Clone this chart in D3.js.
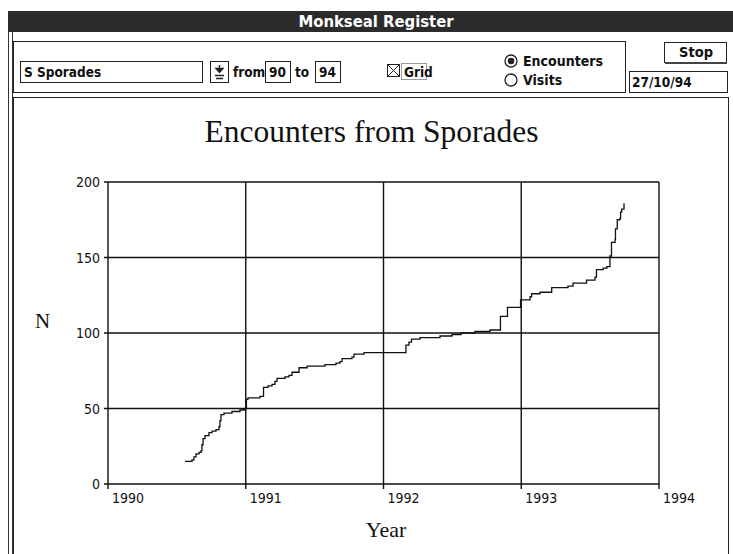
<!DOCTYPE html>
<html>
<head>
<meta charset="utf-8">
<script src="https://cdn.jsdelivr.net/npm/d3@7"></script>
<style>
  body { margin: 0; background: #fff; }
  .ui { font-family: "DejaVu Sans Condensed", "DejaVu Sans", sans-serif; font-weight: bold; font-size: 14px; fill: #111; }
  .tick-lbl { font-family: "Liberation Sans Narrow", "DejaVu Sans Condensed", sans-serif; font-size: 14px; fill: #111; }
  .serif { font-family: "Liberation Serif", "DejaVu Serif", serif; fill: #111; }
</style>
</head>
<body>
<div id="chart"></div>
<script>
// cumulative encounters (decimal year, N)
const years = [1990.559, 1990.610, 1990.624, 1990.639, 1990.661, 1990.675, 1990.682, 1990.690,
  1990.704, 1990.733, 1990.755, 1990.784, 1990.806, 1990.813, 1990.820, 1990.842, 1990.900,
  1990.958, 1990.995, 1991.005, 1991.016, 1991.103, 1991.129, 1991.162, 1991.191, 1991.212,
  1991.227, 1991.285, 1991.314, 1991.336, 1991.387, 1991.445, 1991.575, 1991.655, 1991.684,
  1991.699, 1991.771, 1991.786, 1991.859, 1992.163, 1992.185, 1992.203, 1992.265, 1992.410,
  1992.497, 1992.563, 1992.664, 1992.773, 1992.849, 1992.900, 1992.995, 1993.064, 1993.075,
  1993.136, 1993.221, 1993.339, 1993.376, 1993.474, 1993.535, 1993.546, 1993.595, 1993.622,
  1993.644, 1993.655, 1993.681, 1993.684, 1993.697, 1993.717, 1993.721, 1993.729, 1993.746];
const counts = [15, 16, 18, 20, 21, 22, 26, 30,
  32, 34, 35, 36, 38, 42, 46, 47, 48,
  49, 50, 56, 57, 58, 64, 65, 66, 68,
  70, 71, 72, 74, 77, 78, 79, 80, 81,
  83, 84, 86, 87, 92, 94, 96, 97, 98,
  99, 100, 101, 102, 111, 117, 122, 124, 126,
  127, 130, 131, 133, 135, 137, 142, 143, 144,
  151, 160, 162, 169, 175, 176, 180, 182, 186];
const xTicks = [1990, 1991, 1992, 1993, 1994];
const yTicks = [0, 50, 100, 150, 200];

const width = 733, height = 554;
const plot = {left: 108, right: 659, top: 182, bottom: 484};

let svg = d3.select('#chart')
    .append("svg")
    .attr("width", width)
    .attr("height", height);

svg.append("rect").attr("width", width).attr("height", height).attr("fill", "#fff");

// ---- window chrome ----
svg.append("rect").attr("x", 8).attr("y", 11).attr("width", 725).attr("height", 21).attr("fill", "#2b2b2b");
svg.append("text").attr("class", "ui")
    .attr("x", 376).attr("y", 27)
    .attr("text-anchor", "middle")
    .style("font-size", "16.5px")
    .style("fill", "#fff")
    .text("Monkseal Register");

// outer frame lines
svg.append("line").attr("x1", 8.5).attr("x2", 8.5).attr("y1", 32).attr("y2", height).attr("stroke", "#333");
svg.append("line").attr("x1", 12.5).attr("x2", 12.5).attr("y1", 32).attr("y2", height).attr("stroke", "#333");

// control panel
svg.append("rect").attr("x", 13.5).attr("y", 41.5).attr("width", 612).attr("height", 51)
    .attr("fill", "none").attr("stroke", "#222");
svg.append("rect").attr("x", 20.5).attr("y", 61.5).attr("width", 182).attr("height", 21)
    .attr("fill", "none").attr("stroke", "#222");
svg.append("text").attr("class", "ui").attr("x", 24).attr("y", 77).style("font-size", "13.5px").text("S Sporades");

svg.append("rect").attr("x", 210.5).attr("y", 61.5).attr("width", 18).attr("height", 21)
    .attr("fill", "none").attr("stroke", "#222");
svg.append("path").attr("d", "M219.5,65 V71 M216,68.5 L219.5,72.5 L223,68.5 Z M215,75.5 H224 M216,78.5 H223")
    .attr("fill", "#222").attr("stroke", "#222").attr("stroke-width", 1.4);

svg.append("text").attr("class", "ui").attr("x", 233).attr("y", 77).style("font-size", "13.5px").text("from");
svg.append("rect").attr("x", 265.5).attr("y", 61.5).attr("width", 25).attr("height", 21)
    .attr("fill", "none").attr("stroke", "#222");
svg.append("text").attr("class", "ui").attr("x", 269).attr("y", 77).style("font-size", "13.5px").text("90");
svg.append("text").attr("class", "ui").attr("x", 295).attr("y", 77).style("font-size", "13.5px").text("to");
svg.append("rect").attr("x", 315.5).attr("y", 61.5).attr("width", 25).attr("height", 21)
    .attr("fill", "none").attr("stroke", "#222");
svg.append("text").attr("class", "ui").attr("x", 319).attr("y", 77).style("font-size", "13.5px").text("94");

svg.append("rect").attr("x", 387.5).attr("y", 64.5).attr("width", 12).attr("height", 12)
    .attr("fill", "none").attr("stroke", "#222");
svg.append("path").attr("d", "M388,65 L399,76 M399,65 L388,76").attr("stroke", "#222");
svg.append("rect").attr("x", 401.5).attr("y", 63.5).attr("width", 25).attr("height", 16)
    .attr("fill", "none").attr("stroke", "#333").attr("stroke-dasharray", "1,1");
svg.append("text").attr("class", "ui").attr("x", 404).attr("y", 76.5).style("font-size", "13.5px").text("Grid");

svg.append("circle").attr("cx", 511).attr("cy", 61).attr("r", 6).attr("fill", "none").attr("stroke", "#222").attr("stroke-width", 1.3);
svg.append("circle").attr("cx", 511).attr("cy", 61).attr("r", 3.3).attr("fill", "#222");
svg.append("text").attr("class", "ui").attr("x", 523).attr("y", 66).style("font-size", "14px").text("Encounters");
svg.append("circle").attr("cx", 511).attr("cy", 80).attr("r", 6).attr("fill", "none").attr("stroke", "#222").attr("stroke-width", 1.3);
svg.append("text").attr("class", "ui").attr("x", 523).attr("y", 85).style("font-size", "14px").text("Visits");

svg.append("rect").attr("x", 664.5).attr("y", 42.5).attr("width", 62).attr("height", 20)
    .attr("fill", "none").attr("stroke", "#222");
svg.append("line").attr("x1", 665).attr("x2", 727).attr("y1", 63).attr("y2", 63).attr("stroke", "#444").attr("stroke-width", 2);
svg.append("text").attr("class", "ui").attr("x", 696).attr("y", 57).attr("text-anchor", "middle").style("font-size", "14.5px").text("Stop");

svg.append("rect").attr("x", 629.5).attr("y", 71.5).attr("width", 98).attr("height", 21)
    .attr("fill", "none").attr("stroke", "#222");
svg.append("text").attr("class", "ui").attr("x", 632).attr("y", 87).style("font-size", "13.5px").text("27/10/94");

// chart panel
svg.append("rect").attr("x", 13.5).attr("y", 97.5).attr("width", 715).attr("height", 470)
    .attr("fill", "none").attr("stroke", "#222");

// ---- chart ----
let x = d3.scaleLinear()
    .domain([1990, 1994])
    .range([plot.left, plot.right]);

let y = d3.scaleLinear()
    .domain([0, 200])
    .range([plot.bottom, plot.top]);

// grid
svg.append("g")
    .selectAll("line.vgrid")
    .data(xTicks)
    .enter()
    .append("line")
    .attr("x1", d => x(d)).attr("x2", d => x(d))
    .attr("y1", plot.top).attr("y2", plot.bottom + 5)
    .attr("stroke", "#111").attr("stroke-width", 1.4);

svg.append("g")
    .selectAll("line.hgrid")
    .data(yTicks)
    .enter()
    .append("line")
    .attr("x1", plot.left - 4).attr("x2", plot.right)
    .attr("y1", d => y(d)).attr("y2", d => y(d))
    .attr("stroke", "#111").attr("stroke-width", 1.4);

// y labels
svg.append("g")
    .selectAll("text")
    .data(yTicks)
    .enter()
    .append("text")
    .attr("class", "tick-lbl")
    .attr("x", plot.left - 8)
    .attr("y", d => y(d) + 5)
    .attr("text-anchor", "end")
    .text(d => d);

// x labels
svg.append("g")
    .selectAll("text")
    .data(xTicks)
    .enter()
    .append("text")
    .attr("class", "tick-lbl")
    .attr("x", d => x(d) + 4)
    .attr("y", plot.bottom + 19)
    .attr("text-anchor", "start")
    .text(d => d);

// step line
let line = d3.line()
    .x((d, i) => x(years[i]))
    .y(d => y(d))
    .curve(d3.curveStepAfter);

svg.append("path")
    .datum(counts)
    .attr("d", line)
    .attr("fill", "none")
    .attr("stroke", "#111")
    .attr("stroke-width", 1.3);

// titles
svg.append("text").attr("class", "serif")
    .attr("x", 371.5).attr("y", 142)
    .attr("text-anchor", "middle")
    .style("font-size", "31.5px")
    .text("Encounters from Sporades");

svg.append("text").attr("class", "serif")
    .attr("x", 35).attr("y", 328)
    .style("font-size", "21px")
    .text("N");

svg.append("text").attr("class", "serif")
    .attr("x", 386).attr("y", 537)
    .attr("text-anchor", "middle")
    .style("font-size", "22px")
    .text("Year");
</script>
</body>
</html>
